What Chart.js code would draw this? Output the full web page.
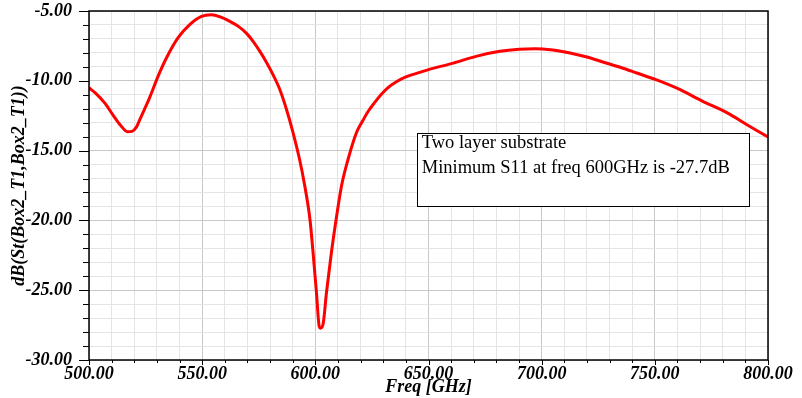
<!DOCTYPE html>
<html>
<head>
<meta charset="utf-8">
<script src="https://cdn.jsdelivr.net/npm/chart.js@4"></script>
<style>
  html, body { margin: 0; padding: 0; background: #ffffff; }
  #wrap { width: 802px; height: 398px; position: relative; }
</style>
</head>
<body>
<div id="wrap"><canvas id="c" width="802" height="398"></canvas></div>
<script>
// ---- data ----
const freqGHz = [500, 503, 507, 511, 514, 517, 519, 521, 522.4, 524.5, 526.8, 530.5, 534.2, 539.3, 544.5, 549.7, 554, 558, 562, 566, 569.6, 572.5, 575.5, 578.5, 581.3, 584, 587.3, 590.2, 593, 595.3, 597.6, 599, 600.5, 601.7, 602.2, 603.4, 604.9, 607.1, 609.4, 611.6, 614.5, 618.2, 621, 623.3, 626, 629, 632, 636, 640, 645, 650, 661, 671, 681.5, 690, 697, 705, 712.5, 720, 727, 735, 742, 750.5, 760, 771, 782, 792, 800];
const s11dB = [-10.5, -10.9, -11.6, -12.55, -13.2, -13.65, -13.62, -13.3, -12.8, -12.05, -11.2, -9.68, -8.37, -6.93, -5.98, -5.39, -5.27, -5.42, -5.72, -6.1, -6.6, -7.17, -7.89, -8.7, -9.56, -10.5, -12.07, -13.74, -15.6, -17.5, -19.9, -22.3, -25.2, -27.6, -27.72, -27.45, -25.2, -22.3, -19.7, -17.5, -15.6, -13.7, -12.85, -12.2, -11.6, -11.0, -10.5, -10.05, -9.72, -9.45, -9.2, -8.73, -8.25, -7.89, -7.74, -7.7, -7.8, -8.01, -8.3, -8.65, -9.05, -9.44, -9.92, -10.55, -11.45, -12.3, -13.27, -14.03];
const xRange = [500, 800];
const yRange = [-30, -5];
const xTitle = 'Freq [GHz]';
const yTitle = 'dB(St(Box2_T1,Box2_T1))';
const noteLines = ['Two layer substrate', 'Minimum S11 at freq 600GHz is -27.7dB'];
const noteBox = { x0: 645.0, x1: 791.5, y0: -13.74, y1: -18.95 }; // data coords

const points = freqGHz.map((f, i) => ({ x: f, y: s11dB[i] }));

const serifBI = { family: 'Liberation Serif', size: 18, style: 'italic', weight: 'bold' };
const MAJOR = '#c8c8c8', MINOR = '#e4e4e4';

const framePlugin = {
  id: 'frame',
  afterDatasetsDraw(chart) {
    const { ctx, chartArea: a, scales } = chart;
    const xs = scales.x, ys = scales.y;
    ctx.save();
    ctx.strokeStyle = '#000';
    ctx.lineWidth = 1;
    ys.ticks.forEach(t => {
      const y = Math.round(ys.getPixelForValue(t.value)) + 0.5;
      const len = (t.value % 5 === 0) ? 10 : 6;
      ctx.beginPath(); ctx.moveTo(a.left - len, y); ctx.lineTo(a.left, y); ctx.stroke();
    });
    xs.ticks.forEach(t => {
      const x = Math.round(xs.getPixelForValue(t.value)) + 0.5;
      const len = (t.value % 50 === 0) ? 5 : 3;
      ctx.beginPath(); ctx.moveTo(x, a.bottom); ctx.lineTo(x, a.bottom + len); ctx.stroke();
    });
    ctx.lineWidth = 1.5;
    ctx.strokeRect(a.left, a.top, a.right - a.left, a.bottom - a.top);
    const bx0 = xs.getPixelForValue(noteBox.x0), bx1 = xs.getPixelForValue(noteBox.x1);
    const by0 = ys.getPixelForValue(noteBox.y0), by1 = ys.getPixelForValue(noteBox.y1);
    ctx.fillStyle = '#ffffff';
    ctx.fillRect(bx0, by0, bx1 - bx0, by1 - by0);
    ctx.lineWidth = 1;
    ctx.strokeRect(Math.round(bx0) + 0.5, Math.round(by0) + 0.5, Math.round(bx1 - bx0), Math.round(by1 - by0));
    ctx.fillStyle = '#000';
    ctx.font = '18.5px "Liberation Serif"';
    ctx.textAlign = 'left';
    ctx.textBaseline = 'alphabetic';
    noteLines.forEach((s, i) => ctx.fillText(s, bx0 + 4.5, by0 + 15 + i * 25));
    ctx.restore();
  }
};

new Chart(document.getElementById('c'), {
  type: 'line',
  data: {
    datasets: [{
      data: points,
      borderColor: '#ff0000',
      borderWidth: 3,
      pointRadius: 0,
      fill: false,
      cubicInterpolationMode: 'monotone'
    }]
  },
  options: {
    responsive: false,
    animation: false,
    events: [],
    layout: { padding: { top: 11, right: 34, left: 0, bottom: 0 } },
    plugins: { legend: { display: false }, tooltip: { enabled: false } },
    scales: {
      x: {
        type: 'linear',
        min: xRange[0], max: xRange[1],
        afterFit(s) { s.height = 38; s.paddingLeft = 0; s.paddingRight = 0; },
        grid: { drawTicks: false, color: c => (c.tick && c.tick.value % 50 === 0) ? MAJOR : MINOR, lineWidth: 1 },
        border: { display: false },
        ticks: {
          stepSize: 10, autoSkip: false, maxRotation: 0, padding: 4,
          color: '#000', font: serifBI,
          callback: v => (v % 50 === 0) ? v.toFixed(2) : ''
        },
        title: { display: true, text: xTitle, color: '#000', font: serifBI, padding: { top: 0, bottom: 0 } }
      },
      y: {
        type: 'linear',
        min: yRange[0], max: yRange[1],
        afterFit(s) { s.width = 89; s.paddingTop = 0; s.paddingBottom = 0; },
        grid: { drawTicks: false, color: c => (c.tick && c.tick.value % 5 === 0) ? MAJOR : MINOR, lineWidth: 1 },
        border: { display: false },
        ticks: {
          stepSize: 1, autoSkip: false, padding: 17,
          color: '#000', font: serifBI,
          callback: v => (v % 5 === 0) ? v.toFixed(2) : ''
        },
        title: { display: true, text: yTitle, color: '#000', font: serifBI, padding: { top: 9, bottom: 0 } }
      }
    }
  },
  plugins: [framePlugin]
});
</script>
</body>
</html>
